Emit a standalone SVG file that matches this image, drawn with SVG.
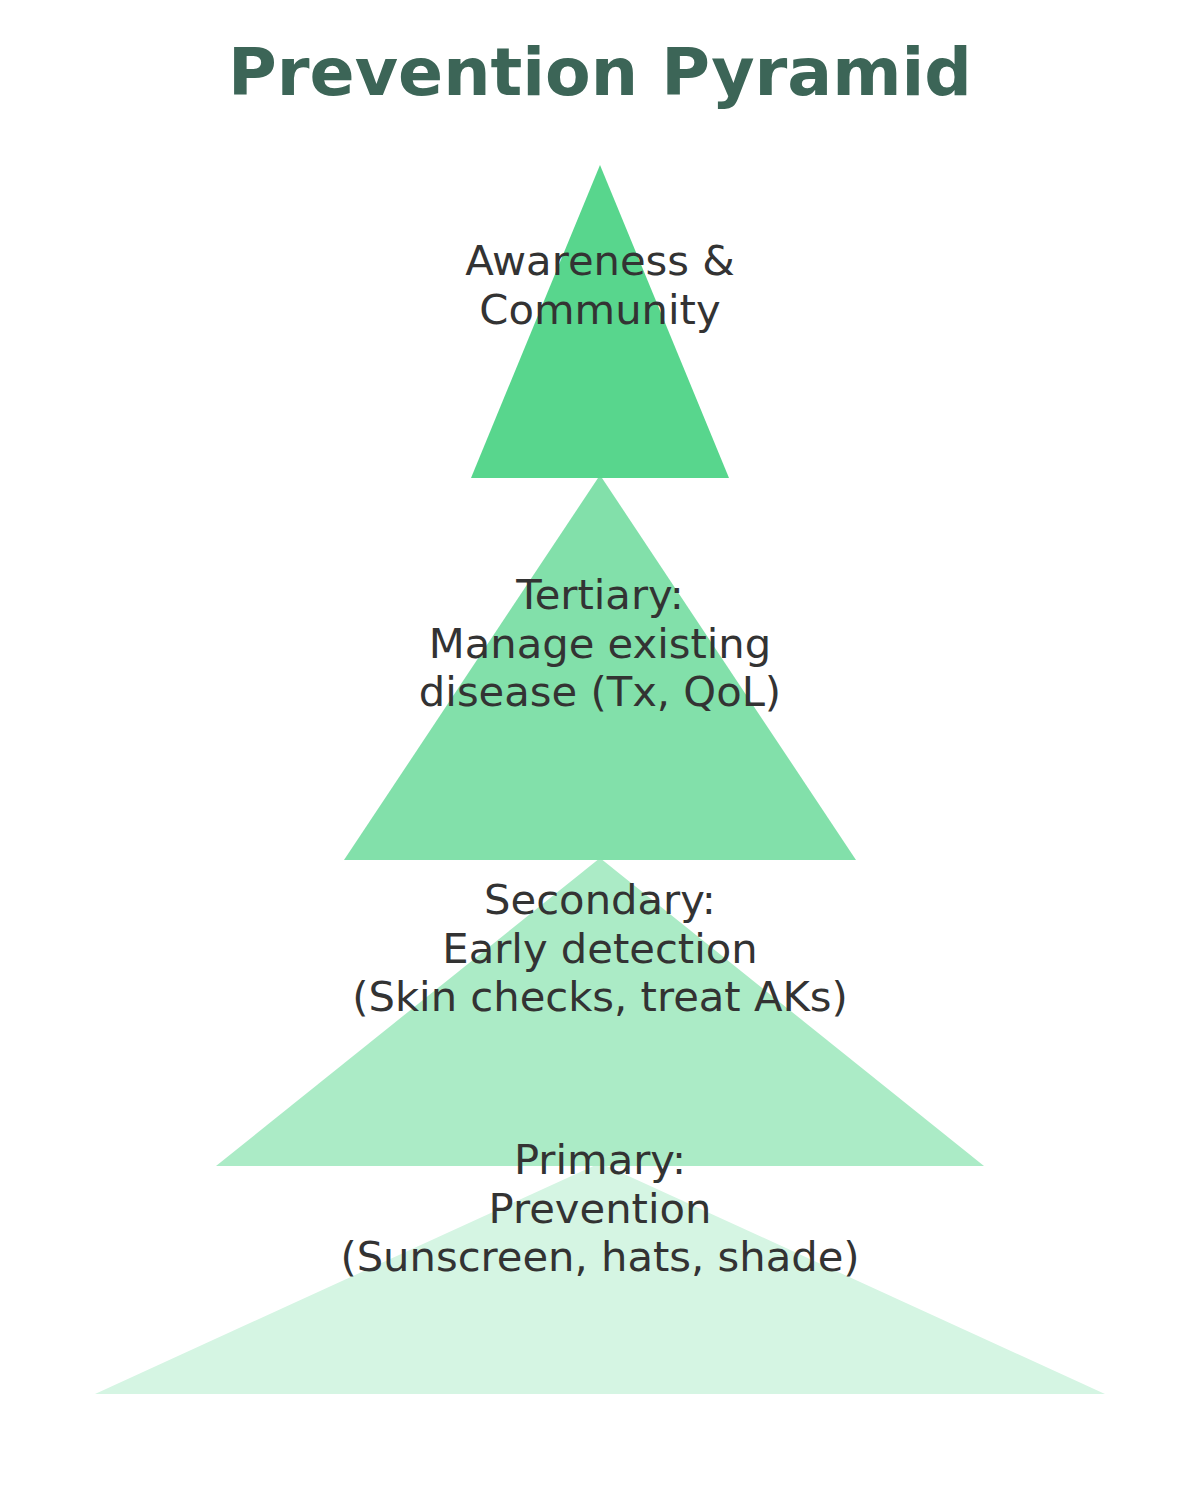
<svg xmlns="http://www.w3.org/2000/svg" width="1200" height="1500" viewBox="0 0 1200 1500">
<style>
.lbl{font-family:"DejaVu Sans",sans-serif;font-size:41.7px;fill:#333333;text-anchor:middle}
.title{font-family:"DejaVu Sans",sans-serif;font-size:66.5px;font-weight:bold;fill:#3c6557;text-anchor:middle}
</style>
<rect width="1200" height="1500" fill="#ffffff"/>
<text class="title" x="600" y="95">Prevention Pyramid</text>
<g id="primary"><polygon points="600,1163 1105,1394 95,1394" fill="#d5f5e3"/></g>
<g id="secondary"><polygon points="600,858 984,1166 216,1166" fill="#abebc6"/></g>
<g id="tertiary"><polygon points="600,475 856,860 344,860" fill="#82e0aa"/></g>
<g id="awareness"><polygon points="600,165 729,478 471,478" fill="#58d68d"/></g>
<g id="labels">
<text class="lbl" x="600" y="275">Awareness &amp;<tspan x="600" dy="48.5">Community</tspan></text>
<text class="lbl" x="600" y="609">Tertiary:<tspan x="600" dy="48.5">Manage existing</tspan><tspan x="600" dy="48.5">disease (Tx, QoL)</tspan></text>
<text class="lbl" x="600" y="914">Secondary:<tspan x="600" dy="48.5">Early detection</tspan><tspan x="600" dy="48.5">(Skin checks, treat AKs)</tspan></text>
<text class="lbl" x="600" y="1174">Primary:<tspan x="600" dy="48.5">Prevention</tspan><tspan x="600" dy="48.5">(Sunscreen, hats, shade)</tspan></text>
</g>
<g id="connectors"></g>
</svg>
